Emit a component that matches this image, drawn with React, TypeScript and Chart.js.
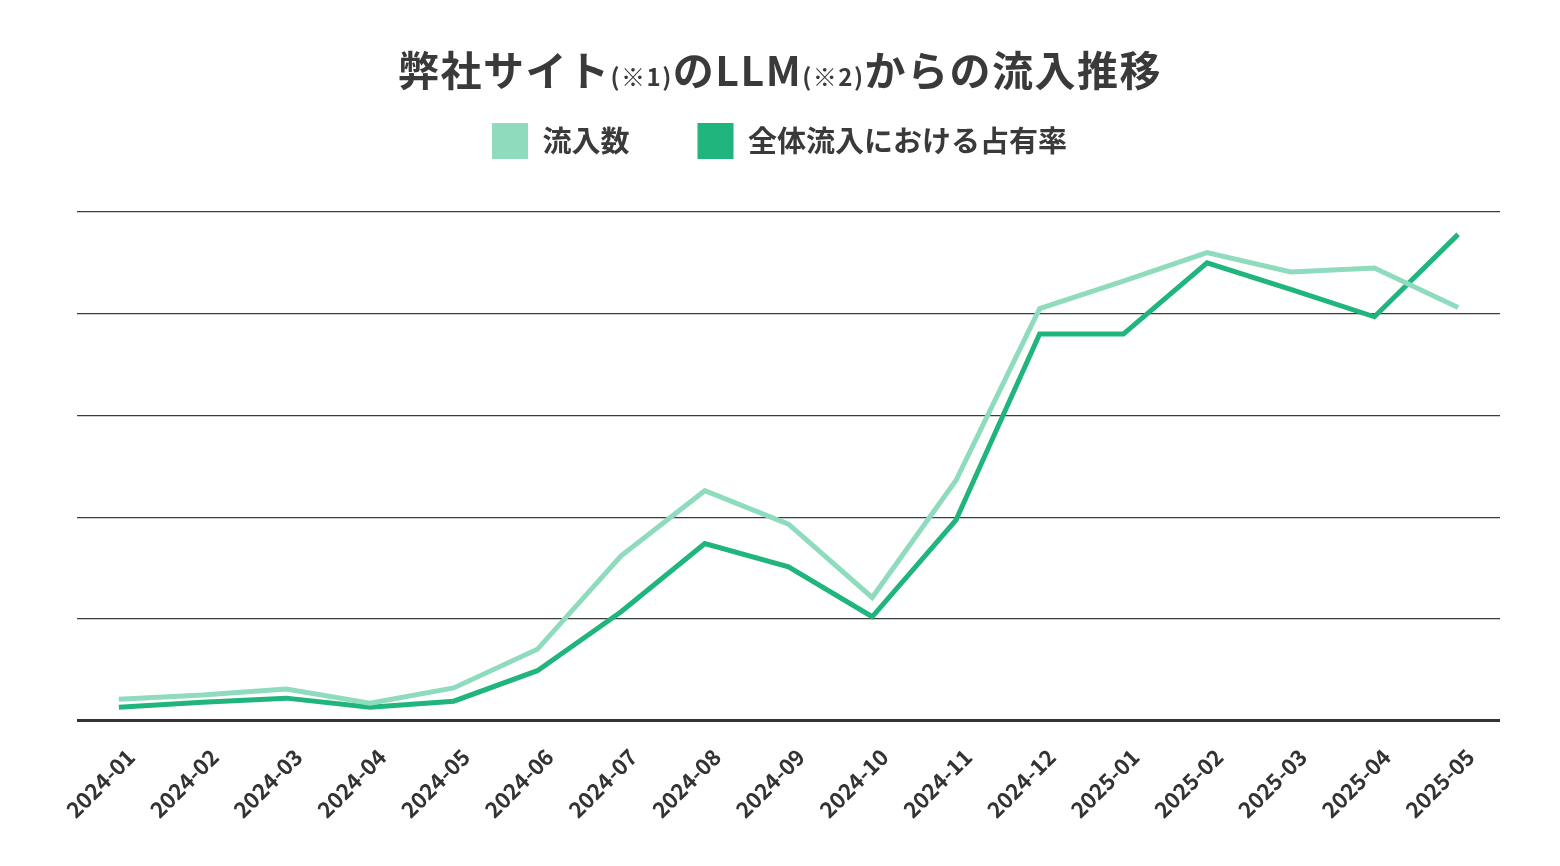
import React, { useEffect, useRef } from 'react';
import Chart from 'chart.js/auto';

const months = [
  '2024-01', '2024-02', '2024-03', '2024-04', '2024-05', '2024-06',
  '2024-07', '2024-08', '2024-09', '2024-10', '2024-11', '2024-12',
  '2025-01', '2025-02', '2025-03', '2025-04', '2025-05',
];

// 流入数 (軸の目盛りは非表示なので相対値)
const inflow = [
  0.21, 0.25, 0.31, 0.17, 0.32, 0.70, 1.62, 2.26, 1.93, 1.21,
  2.36, 4.05, 4.32, 4.60, 4.41, 4.45, 4.06,
];

// 全体流入における占有率
const share = [
  0.13, 0.18, 0.22, 0.13, 0.19, 0.49, 1.07, 1.74, 1.51, 1.02,
  1.97, 3.80, 3.80, 4.50, 4.24, 3.97, 4.78,
];

const lightGreen = '#8fdbbd';
const darkGreen = '#1fb57d';
const textColor = '#3a3a3a';
const fontFamily = '"Noto Sans CJK JP", "Noto Sans", sans-serif';

// 凡例の高さを固定してグラフ上端の位置を合わせる
const legendHeight = {
  id: 'legendHeight',
  beforeInit(chart: any) {
    const origFit = chart.legend.fit;
    chart.legend.fit = function fit() {
      origFit.bind(chart.legend)();
      this.height = 157;
    };
  },
  afterLayout(chart: any) {
    // 凡例をページ中央に寄せる
    chart.legend.left -= 9;
    chart.legend.right -= 9;
  },
};

const App = () => {
  const canvasRef = useRef<HTMLCanvasElement>(null);
  const chartRef = useRef<Chart | null>(null);

  useEffect(() => {
    document.body.style.margin = '0';
    const ctx = canvasRef.current;
    if (!ctx) return;

    chartRef.current = new Chart(ctx, {
      type: 'line',
      data: {
        labels: months,
        datasets: [
          {
            label: '流入数',
            data: inflow,
            borderColor: lightGreen,
            backgroundColor: lightGreen,
            borderWidth: 5,
            pointRadius: 0,
            tension: 0,
          },
          {
            label: '全体流入における占有率',
            data: share,
            borderColor: darkGreen,
            backgroundColor: darkGreen,
            borderWidth: 5,
            pointRadius: 0,
            tension: 0,
          },
        ],
      },
      plugins: [legendHeight],
      options: {
        responsive: false,
        animation: false,
        layout: { padding: { top: 55, left: 77, right: 60, bottom: 20 } },
        plugins: {
          tooltip: { enabled: false },
          legend: {
            position: 'top',
            align: 'center',
            labels: {
              boxWidth: 36,
              boxHeight: 36,
              padding: 68,
              color: textColor,
              font: { family: fontFamily, size: 29, weight: 'bold' },
              generateLabels: (chart) =>
                Chart.defaults.plugins.legend.labels
                  .generateLabels(chart)
                  .map((l) => ({ ...l, lineWidth: 0 })),
            },
          },
        },
        scales: {
          x: {
            offset: true,
            grid: { display: false, drawTicks: false },
            border: { display: false },
            ticks: {
              color: '#333',
              minRotation: 45,
              maxRotation: 45,
              autoSkip: false,
              padding: 23,
              labelOffset: 12,
              font: { family: fontFamily, size: 22, weight: 'bold' },
            },
          },
          y: {
            min: 0,
            max: 5,
            ticks: { display: false, stepSize: 1 },
            border: { display: false },
            grid: {
              drawTicks: false,
              color: (c) => (c.tick && c.tick.value === 0 ? '#333' : '#3c3c3c'),
              lineWidth: (c) => (c.tick && c.tick.value === 0 ? 3 : 1.2),
            },
          },
        },
      },
    });

    return () => {
      if (chartRef.current) {
        chartRef.current.destroy();
        chartRef.current = null;
      }
    };
  }, []);

  return (
    <div style={{ position: 'relative', width: 1560, height: 866, background: '#fff' }}>
      <div
        style={{
          position: 'absolute',
          top: 42,
          left: 0,
          width: 1560,
          textAlign: 'center',
          fontFamily,
          fontWeight: 'bold',
          fontSize: 41,
          lineHeight: '52px',
          color: textColor,
          letterSpacing: 1.5,
        }}
      >
        弊社サイト<span style={{ fontSize: 24 }}>(※1)</span>のLLM<span style={{ fontSize: 24 }}>(※2)</span>からの流入推移
      </div>
      <canvas ref={canvasRef} width={1560} height={866}></canvas>
    </div>
  );
};

export default App;
